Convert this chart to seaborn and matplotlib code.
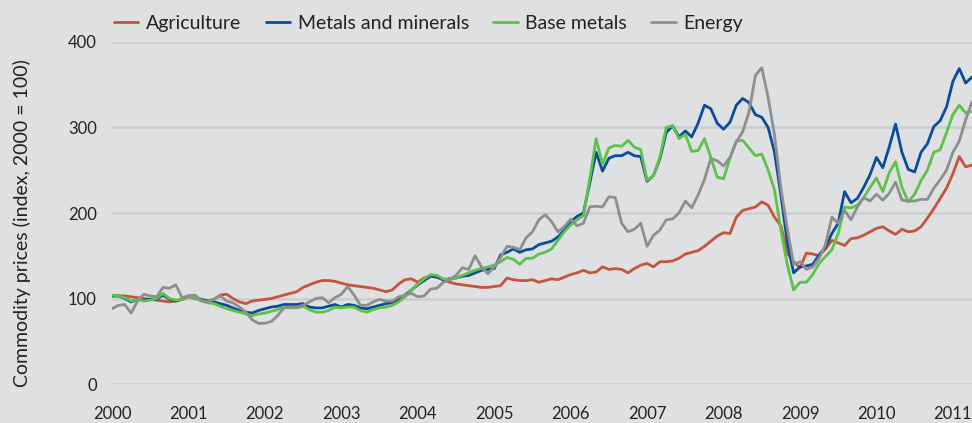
import numpy as np
import pandas as pd
import matplotlib.pyplot as plt
import seaborn as sns

# Monthly index values, Jan 2000 .. Apr 2011 (2000 = 100)
agriculture = [
    103, 103, 103, 102, 101, 100, 99, 98, 97, 96, 97, 99,          # 2000
    102, 100, 99, 97, 99, 104, 105, 100, 96, 94, 97, 98,           # 2001
    99, 100, 102, 104, 106, 108, 113, 116, 119, 121, 121, 120,     # 2002
    118, 116, 115, 114, 113, 112, 110, 108, 110, 117, 122, 123,    # 2003
    119, 124, 127, 125, 122, 119, 117, 116, 115, 114, 113, 113,    # 2004
    114, 115, 124, 122, 121, 121, 122, 119, 121, 123, 122, 125,    # 2005
    128, 130, 133, 130, 131, 137, 134, 135, 134, 130, 135, 139,    # 2006
    141, 137, 143, 143, 144, 147, 152, 154, 156, 161, 167, 173,    # 2007
    177, 176, 195, 203, 205, 207, 213, 209, 195, 185, 153, 143,    # 2008
    136, 153, 152, 150, 158, 168, 165, 162, 170, 171, 174, 178,    # 2009
    182, 184, 179, 175, 181, 178, 179, 184, 194, 205, 217, 229,    # 2010
    246, 266, 254, 256,                                            # 2011
]
metals_minerals = [
    103, 103, 100, 96, 99, 98, 99, 99, 104, 99, 97, 99,
    103, 102, 99, 97, 96, 94, 92, 89, 86, 84, 83, 86,
    88, 90, 91, 93, 93, 93, 94, 90, 89, 89, 91, 93,
    90, 93, 92, 89, 88, 90, 92, 94, 95, 98, 104, 110,
    116, 121, 126, 125, 122, 123, 124, 126, 127, 130, 133, 134,
    135, 151, 154, 158, 154, 157, 158, 163, 165, 167, 172, 180,
    190, 196, 200, 235, 271, 249, 264, 267, 267, 271, 267, 266,
    237, 244, 263, 294, 302, 289, 296, 289, 305, 326, 322, 305,
    298, 306, 326, 334, 329, 315, 312, 300, 271, 221, 166, 130,
    137, 138, 140, 151, 160, 176, 188, 225, 212, 217, 230, 245,
    265, 253, 277, 304, 271, 251, 248, 271, 281, 301, 308, 324,
    354, 369, 352, 359,
]
base_metals = [
    104, 103, 101, 97, 99, 97, 98, 100, 106, 100, 98, 99,
    102, 101, 97, 95, 94, 91, 88, 86, 84, 82, 80, 82,
    83, 85, 87, 90, 89, 89, 91, 87, 84, 84, 86, 90,
    89, 90, 90, 86, 84, 87, 89, 90, 92, 96, 102, 110,
    117, 123, 128, 127, 123, 122, 124, 127, 130, 133, 135, 137,
    139, 143, 148, 146, 140, 147, 147, 152, 154, 158, 168, 178,
    186, 192, 197, 240, 287, 257, 276, 279, 278, 285, 277, 274,
    238, 244, 265, 300, 302, 287, 292, 272, 273, 287, 265, 242,
    240, 264, 284, 285, 276, 267, 269, 250, 227, 180, 140, 110,
    119, 119, 128, 141, 149, 157, 176, 207, 206, 209, 218, 230,
    241, 225, 247, 260, 230, 213, 222, 238, 250, 271, 274, 294,
    315, 326, 317, 319,
]
energy = [
    88, 92, 93, 83, 97, 105, 103, 102, 113, 112, 116, 101,
    103, 104, 98, 96, 99, 103, 97, 95, 90, 84, 75, 71,
    71, 73, 80, 89, 90, 90, 92, 96, 100, 101, 95, 101,
    105, 114, 104, 92, 92, 96, 99, 97, 97, 102, 104, 106,
    102, 103, 111, 112, 119, 122, 127, 136, 134, 150, 137, 129,
    137, 148, 161, 160, 157, 171, 178, 192, 198, 190, 178, 184,
    193, 185, 188, 207, 208, 207, 219, 218, 188, 178, 181, 188,
    161, 174, 180, 192, 193, 200, 214, 206, 221, 239, 264, 261,
    255, 265, 283, 295, 318, 361, 370, 335, 291, 229, 182, 140,
    143, 134, 137, 147, 163, 195, 188, 203, 192, 207, 218, 214,
    222, 215, 223, 236, 215, 214, 214, 216, 216, 229, 239, 250,
    271, 284, 309, 330,
]

series_names = ['Agriculture', 'Metals and minerals', 'Base metals', 'Energy']
series_colors = ['#c6533b', '#0a4c99', '#5cc249', '#8e8e8e']
year_ticks = list(range(2000, 2012))
y_ticks = [0, 100, 200, 300, 400]

# decimal year for each month
t = 2000 + np.arange(len(agriculture)) / 12

wide = pd.DataFrame({'t': t,
                     'Agriculture': agriculture,
                     'Metals and minerals': metals_minerals,
                     'Base metals': base_metals,
                     'Energy': energy})
df = wide.melt(id_vars='t', var_name='series', value_name='value')

bg = '#dfe0e2'
sns.set_theme(style='white', rc={'axes.facecolor': bg, 'figure.facecolor': bg,
                                 'savefig.facecolor': bg})
plt.rcParams['font.family'] = ['Lato', 'DejaVu Sans']
text_color = '#222222'

fig = plt.figure(figsize=(9.72, 4.23), dpi=100)
ax = fig.add_axes([112 / 972, 39 / 423, 860 / 972, 342 / 423])

sns.lineplot(data=df, x='t', y='value', hue='series', hue_order=series_names,
             palette=dict(zip(series_names, series_colors)), linewidth=2.0,
             ax=ax)

ax.set_xlim(2000, t[-1])
ax.set_ylim(0, 400)
ax.set_xticks(year_ticks)
ax.set_xticklabels([str(y) for y in year_ticks])
ax.set_yticks(y_ticks)
ax.yaxis.grid(True, color='#cccdcf', linewidth=1.8)
ax.xaxis.grid(False)
ax.set_axisbelow(True)
for s in ax.spines.values():
    s.set_visible(False)
ax.tick_params(axis='x', length=0, pad=16, labelsize=12, colors=text_color)
ax.tick_params(axis='y', length=0, pad=11, labelsize=12, colors=text_color)

ax.set_xlabel('')
ax.set_ylabel('Commodity prices (index, 2000 = 100)', fontsize=14, color=text_color)
ax.yaxis.set_label_coords(-0.094, 0.47)

ax.legend(loc='lower left', bbox_to_anchor=(-0.009, 1.0), ncol=4, frameon=False,
          fontsize=14, handlelength=1.25, handletextpad=0.4, columnspacing=1.25,
          borderaxespad=0.1, labelcolor=text_color)

fig.savefig('out.png', dpi=100)
